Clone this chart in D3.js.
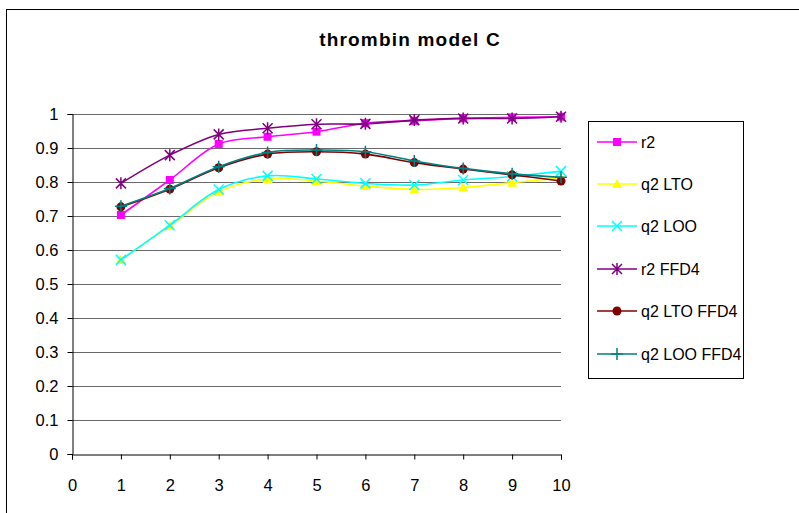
<!DOCTYPE html>
<html><head><meta charset="utf-8">
<script src="https://cdn.jsdelivr.net/npm/d3@7"></script>
<style>body{margin:0;background:#fff;}svg{display:block;font-family:"Liberation Sans",Arial,sans-serif;}</style>
</head><body>
<script>
const xValues = [1,2,3,4,5,6,7,8,9,10];
const seriesNames = ["r2","q2 LTO","q2 LOO","r2 FFD4","q2 LTO FFD4","q2 LOO FFD4"];
const r2        = [0.703,0.806,0.912,0.933,0.948,0.973,0.980,0.987,0.990,0.992];
const q2LTO     = [0.571,0.671,0.771,0.809,0.803,0.788,0.778,0.784,0.798,0.812];
const q2LOO     = [0.571,0.673,0.778,0.818,0.809,0.796,0.791,0.806,0.816,0.832];
const r2FFD4    = [0.796,0.879,0.940,0.958,0.970,0.971,0.982,0.987,0.987,0.992];
const q2LTOFFD4 = [0.727,0.779,0.842,0.882,0.889,0.882,0.857,0.838,0.821,0.803];
const q2LOOFFD4 = [0.729,0.781,0.845,0.887,0.894,0.889,0.862,0.840,0.824,0.814];
const xTicks = [0,1,2,3,4,5,6,7,8,9,10];
const yTicks = [0,0.1,0.2,0.3,0.4,0.5,0.6,0.7,0.8,0.9,1];
const title = "thrombin model C";

const seriesValues = [r2,q2LTO,q2LOO,r2FFD4,q2LTOFFD4,q2LOOFFD4];
const colors = ["#FF00FF","#FFFF00","#00FFFF","#800080","#800000","#008080"];
const markers = ["square","triangle","x","asterisk","circle","plus"];

const W=799,H=513;
const svg=d3.select("body").append("svg").attr("width",W).attr("height",H);
svg.append("rect").attr("x",6.5).attr("y",9.5).attr("width",W).attr("height",H).attr("fill","none").attr("stroke","#000").attr("stroke-width",1);

const x=d3.scaleLinear().domain([0,10]).range([72,561]);
const y=d3.scaleLinear().domain([0,1]).range([454,114]);

svg.append("text").attr("x",410).attr("y",46).attr("text-anchor","middle")
  .attr("font-size",19).attr("letter-spacing",1.2).attr("font-weight","bold").text(title);

svg.append("g").selectAll("line").data(yTicks.slice(1)).join("line")
  .attr("x1",x(0)).attr("x2",x(10)).attr("y1",d=>Math.round(y(d))+0.5).attr("y2",d=>Math.round(y(d))+0.5)
  .attr("stroke","#6a6a6a").attr("stroke-width",1);

const xAxis=svg.append("g").attr("transform",`translate(0,${Math.round(y(0))+0.5})`)
  .call(d3.axisBottom(x).tickValues(xTicks).tickSize(5).tickFormat(d3.format("d")));
const yAxis=svg.append("g").attr("transform",`translate(${x(0)+0.5},0)`)
  .call(d3.axisLeft(y).tickValues(yTicks).tickSize(5).tickFormat(d=>d===0?"0":d===1?"1":d3.format(".1f")(d)));
[xAxis,yAxis].forEach(a=>{a.selectAll("text").attr("font-size",16.5).attr("fill","#000").attr("font-family","Liberation Sans, Arial, sans-serif");a.select(".domain").attr("stroke","#000");a.selectAll(".tick line").attr("stroke","#000");});
xAxis.selectAll("text").attr("dy","0").attr("y",36);
yAxis.selectAll("text").attr("x",-14).attr("dy","0.36em");

function drawMarker(g,type,color,cx,cy){
  const s=4;
  if(type==="square") g.append("rect").attr("x",cx-s).attr("y",cy-s).attr("width",2*s).attr("height",2*s).attr("fill",color);
  else if(type==="triangle") g.append("path").attr("d",`M${cx},${cy-5}L${cx+5},${cy+4}L${cx-5},${cy+4}Z`).attr("fill",color);
  else if(type==="x") g.append("path").attr("d",`M${cx-5},${cy-5}L${cx+5},${cy+5}M${cx-5},${cy+5}L${cx+5},${cy-5}`).attr("stroke",color).attr("stroke-width",1.5);
  else if(type==="asterisk") g.append("path").attr("d",`M${cx-5},${cy-5}L${cx+5},${cy+5}M${cx-5},${cy+5}L${cx+5},${cy-5}M${cx},${cy-6}L${cx},${cy+6}`).attr("stroke",color).attr("stroke-width",1.5);
  else if(type==="circle") g.append("circle").attr("cx",cx).attr("cy",cy).attr("r",4.5).attr("fill",color);
  else if(type==="plus") g.append("path").attr("d",`M${cx-6},${cy}L${cx+6},${cy}M${cx},${cy-6}L${cx},${cy+6}`).attr("stroke",color).attr("stroke-width",1.5);
}

const line=d3.line().x((d,i)=>x(xValues[i])).y(d=>y(d)).curve(d3.curveCatmullRom.alpha(0.5));
seriesValues.forEach((vals,k)=>{
  const g=svg.append("g");
  g.append("path").attr("d",line(vals)).attr("fill","none").attr("stroke",colors[k]).attr("stroke-width",1.6);
  vals.forEach((v,i)=>drawMarker(g,markers[k],colors[k],x(xValues[i]),y(v)));
});

const lg=svg.append("g");
lg.append("rect").attr("x",588.5).attr("y",121.5).attr("width",155).attr("height",257).attr("fill","#fff").attr("stroke","#000");
const legY=[142,184,226,269,311,354];
seriesNames.forEach((n,k)=>{
  lg.append("line").attr("x1",597).attr("x2",637).attr("y1",legY[k]).attr("y2",legY[k]).attr("stroke",colors[k]).attr("stroke-width",1.5);
  drawMarker(lg,markers[k],colors[k],617,legY[k]);
  lg.append("text").attr("x",641).attr("y",legY[k]+6).attr("font-size",16).text(n);
});
</script>
</body></html>
